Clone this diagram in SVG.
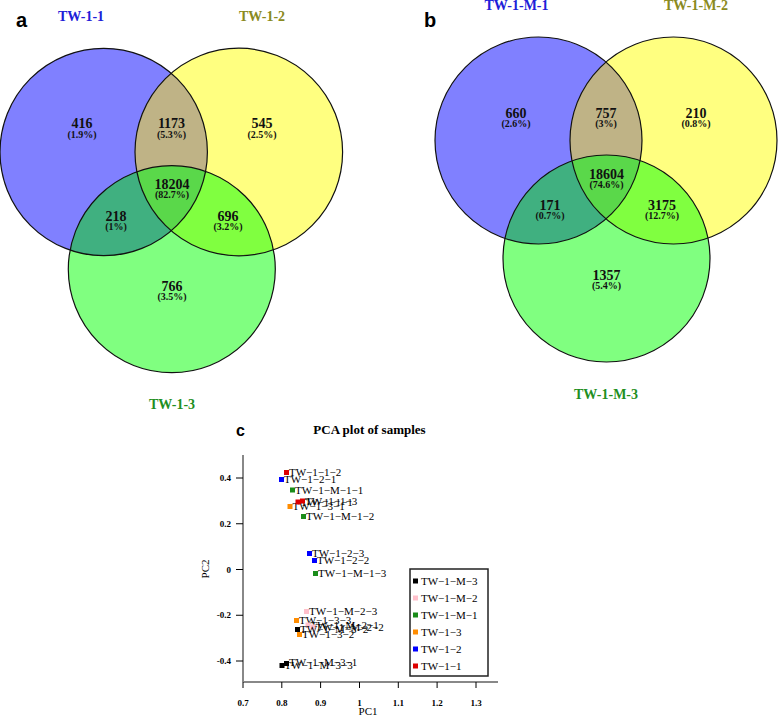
<svg xmlns="http://www.w3.org/2000/svg" width="778" height="716" viewBox="0 0 778 716">
<style>
.num{font-family:"Liberation Serif","Times New Roman",serif;font-weight:bold;font-size:14px;text-anchor:middle;fill:#111}
.pct{font-family:"Liberation Serif","Times New Roman",serif;font-weight:bold;font-size:10px;text-anchor:middle;fill:#111}
.lab{font-family:"Liberation Serif","Times New Roman",serif;font-weight:bold;font-size:14px;text-anchor:middle}
.panel{font-family:"Liberation Sans",Arial,sans-serif;font-weight:bold;font-size:20px;fill:#000}
.edge{fill:none;stroke:#111;stroke-width:1.2}
.pt{font-family:"Liberation Serif","Times New Roman",serif;font-size:11px;fill:#000}
.tick{stroke:#000;stroke-width:1}
.axis{stroke:#888;stroke-width:2;fill:none}
.tl{font-family:"Liberation Serif","Times New Roman",serif;font-weight:bold;font-size:9px;fill:#000}
.ax{font-family:"Liberation Serif","Times New Roman",serif;font-size:11px;fill:#000}
.r{fill:#dd0000}.b{fill:#0000ff}.g{fill:#1a8c1a}.o{fill:#ff8c00}.p{fill:#ffc0cb}.k{fill:#000}
</style>
<defs>
<clipPath id="ca1"><circle cx="103.7" cy="152" r="103.7"/></clipPath>
<clipPath id="ca2"><circle cx="238.8" cy="152" r="103.8"/></clipPath>
<clipPath id="cb1"><circle cx="538.5" cy="140.5" r="103.5"/></clipPath>
<clipPath id="cb2"><circle cx="673.5" cy="140.5" r="103.5"/></clipPath>
</defs>
<rect width="778" height="716" fill="#fff"/>

<g id="venn-a">
<circle cx="103.7" cy="152" r="103.7" fill="#8080ff"/>
<circle cx="238.8" cy="152" r="103.8" fill="#ffff80"/>
<circle cx="171.8" cy="269.2" r="103.5" fill="#80ff80"/>
<circle cx="238.8" cy="152" r="103.8" fill="#bfb386" clip-path="url(#ca1)"/>
<circle cx="171.8" cy="269.2" r="103.5" fill="#40b080" clip-path="url(#ca1)"/>
<circle cx="171.8" cy="269.2" r="103.5" fill="#80ff40" clip-path="url(#ca2)"/>
<g clip-path="url(#ca1)"><circle cx="171.8" cy="269.2" r="103.5" fill="#5ad84a" clip-path="url(#ca2)"/></g>
<circle class="edge" cx="103.7" cy="152" r="103.7"/>
<circle class="edge" cx="238.8" cy="152" r="103.8"/>
<circle class="edge" cx="171.8" cy="269.2" r="103.5"/>
<text class="panel" x="16" y="27">a</text>
<text class="lab" x="81" y="20.5" fill="#2020d8">TW-1-1</text>
<text class="lab" x="262" y="20.5" fill="#8a8a20">TW-1-2</text>
<text class="lab" x="172" y="409" fill="#1f8f1f">TW-1-3</text>
<text class="num" x="82" y="128">416</text><text class="pct" x="82" y="137.5">(1.9%)</text>
<text class="num" x="171.5" y="128">1173</text><text class="pct" x="171.5" y="137.5">(5.3%)</text>
<text class="num" x="262" y="128">545</text><text class="pct" x="262" y="137.5">(2.5%)</text>
<text class="num" x="172" y="189">18204</text><text class="pct" x="172" y="198">(82.7%)</text>
<text class="num" x="116" y="221">218</text><text class="pct" x="116" y="230">(1%)</text>
<text class="num" x="228" y="221">696</text><text class="pct" x="228" y="230">(3.2%)</text>
<text class="num" x="172" y="290.5">766</text><text class="pct" x="172" y="300">(3.5%)</text>
</g>

<g id="venn-b">
<circle cx="538.5" cy="140.5" r="103.5" fill="#8080ff"/>
<circle cx="673.5" cy="140.5" r="103.5" fill="#ffff80"/>
<circle cx="606.5" cy="258.5" r="103.5" fill="#80ff80"/>
<circle cx="673.5" cy="140.5" r="103.5" fill="#bfb386" clip-path="url(#cb1)"/>
<circle cx="606.5" cy="258.5" r="103.5" fill="#40b080" clip-path="url(#cb1)"/>
<circle cx="606.5" cy="258.5" r="103.5" fill="#80ff40" clip-path="url(#cb2)"/>
<g clip-path="url(#cb1)"><circle cx="606.5" cy="258.5" r="103.5" fill="#5ad84a" clip-path="url(#cb2)"/></g>
<circle class="edge" cx="538.5" cy="140.5" r="103.5"/>
<circle class="edge" cx="673.5" cy="140.5" r="103.5"/>
<circle class="edge" cx="606.5" cy="258.5" r="103.5"/>
<text class="panel" x="424" y="27">b</text>
<text class="lab" x="516.5" y="10" fill="#2020d8">TW-1-M-1</text>
<text class="lab" x="696" y="10" fill="#8a8a20">TW-1-M-2</text>
<text class="lab" x="606" y="399" fill="#1f8f1f">TW-1-M-3</text>
<text class="num" x="516" y="117.5">660</text><text class="pct" x="516" y="126.5">(2.6%)</text>
<text class="num" x="606" y="117.5">757</text><text class="pct" x="606" y="126.5">(3%)</text>
<text class="num" x="696" y="117.5">210</text><text class="pct" x="696" y="126.5">(0.8%)</text>
<text class="num" x="606.5" y="178.5">18604</text><text class="pct" x="606.5" y="187.5">(74.6%)</text>
<text class="num" x="550" y="209.5">171</text><text class="pct" x="550" y="218.5">(0.7%)</text>
<text class="num" x="662" y="209.5">3175</text><text class="pct" x="662" y="218.5">(12.7%)</text>
<text class="num" x="606.5" y="279.5">1357</text><text class="pct" x="606.5" y="288.5">(5.4%)</text>
</g>

<g id="pca">
<text class="panel" x="236" y="436" style="font-size:16px">c</text>
<text x="369.5" y="434" style="font-family:'Liberation Serif','Times New Roman',serif;font-weight:bold;font-size:13px;text-anchor:middle">PCA plot of samples</text>
<g id="axes">
<path class="axis" d="M243 455V682M243 682H498"/>
<path class="tick" d="M236 478H243M236 523.75H243M236 569.5H243M236 615.25H243M236 661H243"/>
<path class="tick" d="M243 682V688M281.8 682V688M320.6 682V688M359.5 682V688M398.3 682V688M437.1 682V688M476 682V688"/>
<g class="tl" text-anchor="end">
<text x="231" y="481">0.4</text><text x="231" y="527">0.2</text><text x="231" y="572.5">0</text><text x="231" y="618">-0.2</text><text x="231" y="664">-0.4</text>
</g>
<g class="tl" text-anchor="middle">
<text x="243" y="706">0.7</text><text x="281.8" y="706">0.8</text><text x="320.6" y="706">0.9</text><text x="359.5" y="706">1</text><text x="398.3" y="706">1.1</text><text x="437.1" y="706">1.2</text><text x="476" y="706">1.3</text>
</g>
<text class="ax" x="368" y="715" text-anchor="middle">PC1</text>
<text class="ax" transform="translate(209 569) rotate(-90)" text-anchor="middle">PC2</text>
</g>
<g id="points">
<rect class="r" x="284" y="470" width="5" height="5"/><text class="pt" x="289" y="476">TW−1−1−2</text>
<rect class="b" x="279" y="477" width="5" height="5"/><text class="pt" x="284" y="483">TW−1−2−1</text>
<rect class="g" x="290" y="487.5" width="5" height="5"/><text class="pt" x="295" y="494">TW−1−M−1−1</text>
<rect class="o" x="287.5" y="504" width="5" height="5"/><text class="pt" x="292.5" y="510">TW−1−3−1</text>
<rect class="r" x="295.5" y="499.5" width="5" height="5"/><text class="pt" x="300.5" y="505.5">TW−1−1−1</text>
<rect class="r" x="300" y="498.5" width="5" height="5"/><text class="pt" x="305" y="504.5">TW−1−1−3</text>
<rect class="g" x="301" y="514" width="5" height="5"/><text class="pt" x="306" y="520">TW−1−M−1−2</text>
<rect class="b" x="307" y="551" width="5" height="5"/><text class="pt" x="312" y="557">TW−1−2−3</text>
<rect class="b" x="312" y="558" width="5" height="5"/><text class="pt" x="317" y="564">TW−1−2−2</text>
<rect class="g" x="313" y="571" width="5" height="5"/><text class="pt" x="318" y="577">TW−1−M−1−3</text>
<rect class="p" x="304" y="609" width="5" height="5"/><text class="pt" x="309" y="615">TW−1−M−2−3</text>
<rect class="o" x="294" y="618" width="5" height="5"/><text class="pt" x="299" y="624">TW−1−3−3</text>
<rect class="p" x="305.5" y="622.5" width="5" height="5"/><text class="pt" x="310.5" y="628.5">TW−1−M−2−1</text>
<rect class="p" x="310.5" y="624.5" width="5" height="5"/><text class="pt" x="315.5" y="630.5">TW−1−M−2−2</text>
<rect class="k" x="295" y="627" width="5" height="5"/><text class="pt" x="300" y="633">TW−1−M−3−2</text>
<rect class="o" x="297" y="632" width="5" height="5"/><text class="pt" x="302" y="638">TW−1−3−2</text>
<rect class="k" x="284" y="661" width="5" height="5"/><text class="pt" x="289" y="666">TW−1−M−3−1</text>
<rect class="k" x="279.5" y="663" width="5" height="5"/><text class="pt" x="284.5" y="669">TW−1−M−3−3</text>
</g>
<g id="legend">
<rect x="410" y="569" width="78" height="107" fill="#fff" stroke="#222" stroke-width="1.5"/>
<rect class="k" x="413" y="578.5" width="5" height="5"/><text class="pt" x="421" y="585">TW−1−M−3</text>
<rect class="p" x="413" y="595.5" width="5" height="5"/><text class="pt" x="421" y="602">TW−1−M−2</text>
<rect class="g" x="413" y="612.5" width="5" height="5"/><text class="pt" x="421" y="619">TW−1−M−1</text>
<rect class="o" x="413" y="629.5" width="5" height="5"/><text class="pt" x="421" y="636">TW−1−3</text>
<rect class="b" x="413" y="646.5" width="5" height="5"/><text class="pt" x="421" y="653">TW−1−2</text>
<rect class="r" x="413" y="663.5" width="5" height="5"/><text class="pt" x="421" y="670">TW−1−1</text>
</g>
</g>
</svg>
